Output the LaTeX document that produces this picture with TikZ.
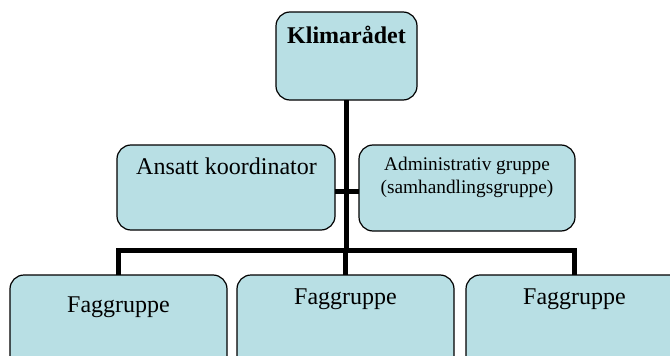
\documentclass[tikz,border=0pt]{standalone}
\usepackage{fontspec}
\setmainfont{Liberation Serif}
\definecolor{boxfill}{RGB}{184,223,228}
\begin{document}
\begin{tikzpicture}[x=1pt,y=-1pt,
  orgbox/.style={draw=black,line width=1.2pt,fill=boxfill,rounded corners=14pt,inner sep=0pt,outer sep=0pt,rectangle},
  conn/.style={line width=5pt,draw=black},
  lbl/.style={anchor=base,inner sep=0pt,font=\fontsize{24}{26}\selectfont},
  smalllbl/.style={anchor=base,inner sep=0pt,align=center,font=\fontsize{19.3}{23}\selectfont}]
\useasboundingbox (0,0) rectangle (670,356);
\clip (0,0) rectangle (670,356);
% boxes
\node[orgbox,minimum width=141pt,minimum height=88pt] (top) at (346.5,56) {};
\node[orgbox,minimum width=218pt,minimum height=85pt] (coord) at (226,187.5) {};
\node[orgbox,minimum width=216pt,minimum height=86pt] (adm) at (467,188) {};
\node[orgbox,minimum width=217pt,minimum height=105pt] (fg1) at (118.5,327.5) {};
\node[orgbox,minimum width=217pt,minimum height=105pt] (fg2) at (345.5,327.5) {};
\node[orgbox,minimum width=217pt,minimum height=105pt] (fg3) at (574.5,327.5) {};
% connection points
\coordinate (bar) at (346.5,250);
% connectors
\draw[conn] (top.south) -- (bar);
\draw[conn] (coord.east |- 0,191) -- (adm.west |- 0,191);
\draw[conn,line join=miter] (fg1.north) -- (fg1.north |- bar) -- (fg3.north |- bar) -- (fg3.north);
\draw[conn] (fg2.north |- bar) -- (fg2.north);
% texts
\node[lbl,font=\fontsize{24}{26}\selectfont\bfseries] (t0) at (346.5,43) {Klimarådet};
\node[lbl] (t1) at (226.5,174) {Ansatt koordinator};
\node[smalllbl] (t2a) at (467,170) {Administrativ gruppe};
\node[smalllbl] (t2b) at (467,193) {(samhandlingsgruppe)};
\node[lbl] (t3) at (118.5,312) {Faggruppe};
\node[lbl] (t4) at (345.5,304) {Faggruppe};
\node[lbl] (t5) at (574.5,304) {Faggruppe};
\end{tikzpicture}
\end{document}
